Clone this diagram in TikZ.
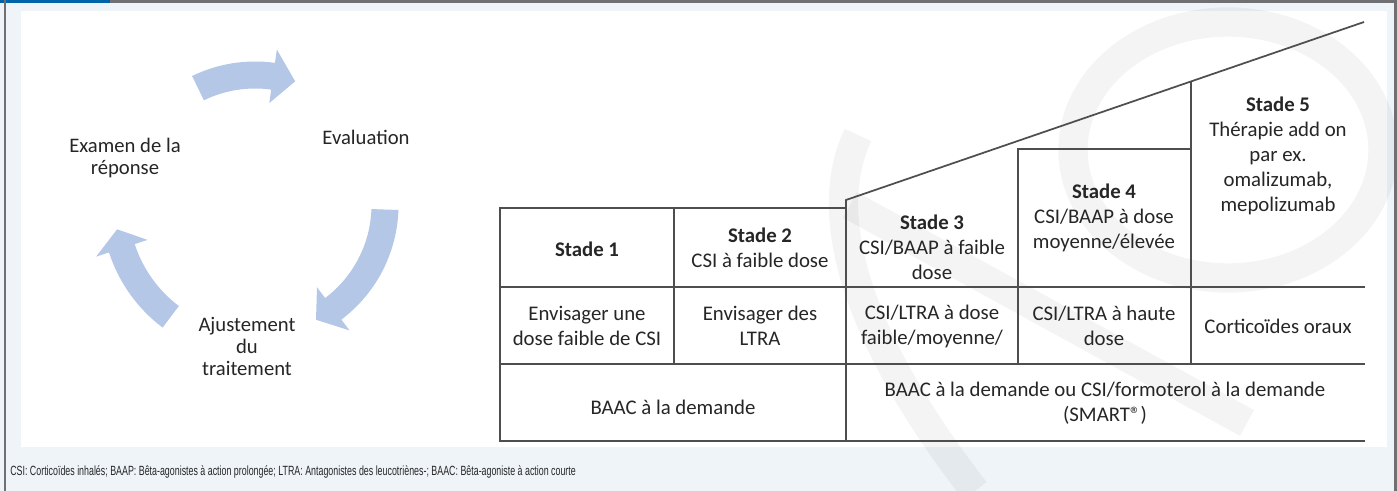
\documentclass[tikz,border=0pt]{standalone}
\usepackage{fontspec}
\setmainfont{Carlito}
\newfontfamily\notefont{Liberation Sans}[FakeStretch=0.665]
\usetikzlibrary{positioning,calc}

\definecolor{framebg}{RGB}{239,244,248}
\definecolor{framegray}{RGB}{112,112,114}
\definecolor{tabblue}{RGB}{0,101,168}
\definecolor{cycleblue}{RGB}{180,199,231}
\definecolor{inkgray}{RGB}{38,38,38}
\definecolor{rulegray}{RGB}{78,78,78}

\tikzset{
  cell/.style={align=center, text=inkgray, inner sep=0pt,
    font=\fontsize{15.6}{18.75}\selectfont},
  lbl/.style={align=center, text=inkgray, inner sep=0pt,
    font=\fontsize{15.5}{16.5}\selectfont},
  rule/.style={draw=rulegray, line width=1.3pt},
  wmark/.style={draw=black, opacity=0.045, line width=22pt},
}

% thick curved arrow: tail angle, tip angle, radius, angle of the head base
\newcommand{\cyclearrow}[4]{%
  \fill[cycleblue] ({#1}:{#3+13.5}) arc[start angle=#1, end angle=#4, radius=#3+13.5]
    -- ({#4}:{#3+27}) -- ({#2}:{#3}) -- ({#4}:{#3-27})
    -- ({#4}:{#3-13.5}) arc[start angle=#4, end angle=#1, radius=#3-13.5] -- cycle;}

\begin{document}
\begin{tikzpicture}[x=0.75pt, y=-0.75pt]
\useasboundingbox (0,0) rectangle (1397,491);

% panel
\fill[framebg] (0,0) rectangle (1397,491);
\fill[white] (21,11) rectangle (1387,447);

% watermark
\begin{scope}
  \clip (6,3) rectangle (1394,491);
  \draw[wmark] (1228,150) ellipse [x radius=155, y radius=128];
  \draw[wmark] (858,135) .. controls (822,210) and (850,330) .. (975,491);
  \draw[wmark] (850,205) -- (1247,423);
\end{scope}

% frame
\fill[framegray] (0,0) rectangle (1397,3);
\fill[tabblue] (0,0) rectangle (110,3);
\draw[framegray, line width=1.5pt] (5,0) -- (5,491);
\draw[framegray, line width=2pt] (1395.5,0) -- (1395.5,491);

% cycle
\begin{scope}[shift={(255,205)}, yscale=-1]
  \cyclearrow{116}{72}{130}{82}
  \cyclearrow{-2}{-62}{130}{-53}
  \cyclearrow{233}{190}{140}{198}
\end{scope}
\node[lbl] (examen) at (125,158) {Examen de la\\réponse};
\node[lbl] (evaluation) at (366,137) {Evaluation};
\node[lbl] (ajustement) at (247,346) {Ajustement\\du\\traitement};

% stairs table
\coordinate (slopelow) at (846,200);
\coordinate (slopehigh) at (1364,22);
\draw[rule] (846,208) -- (500,208) -- (500,441) -- (1365,441);
\draw[rule] (500,287) -- (1365,287);
\draw[rule] (500,364) -- (1365,364);
\draw[rule] (674,208) -- (674,364);
\draw[rule] (846,441) -- (slopelow) -- (slopehigh);
\draw[rule] (1018,364) -- (1018,149) -- (1191,149);
\draw[rule] (1191,364) -- (1191,81.5);

\node[cell] (stade1) at (587,249) {\textbf{Stade 1}};
\node[cell] (stade2) at (760,248) {\textbf{Stade 2}\\CSI à faible dose};
\node[cell] (stade3) at (932,247) {\textbf{Stade 3}\\CSI/BAAP à faible\\dose};
\node[cell] (stade4) at (1104,218) {\textbf{Stade 4}\\CSI/BAAP à dose\\moyenne/élevée};
\node[cell] (stade5) at (1278,156) {\textbf{Stade 5}\\Thérapie add on\\par ex.\\omalizumab,\\mepolizumab};

\node[cell] (opt1) at (587,326) {Envisager une\\dose faible de CSI};
\node[cell] (opt2) at (760,326) {Envisager des\\LTRA};
\node[cell] (opt3) at (932,326) {CSI/LTRA à dose\\faible/moyenne/};
\node[cell] (opt4) at (1104,326) {CSI/LTRA à haute\\dose};
\node[cell] (opt5) at (1278,326) {Corticoïdes oraux};

\node[cell] (relief1) at (673,407) {BAAC à la demande};
\node[cell] (relief2) at (1105,403) {BAAC à la demande ou CSI/formoterol à la demande\\(SMART®)};

% abbreviations
\node[anchor=west, inner sep=0pt, text=inkgray, font=\notefont\fontsize{10}{12}\selectfont]
  (note) at (10,472) {CSI: Corticoïdes inhalés; BAAP: Bêta-agonistes à action prolongée; LTRA: Antagonistes des leucotriènes-; BAAC: Bêta-agoniste à action courte};
\end{tikzpicture}
\end{document}
